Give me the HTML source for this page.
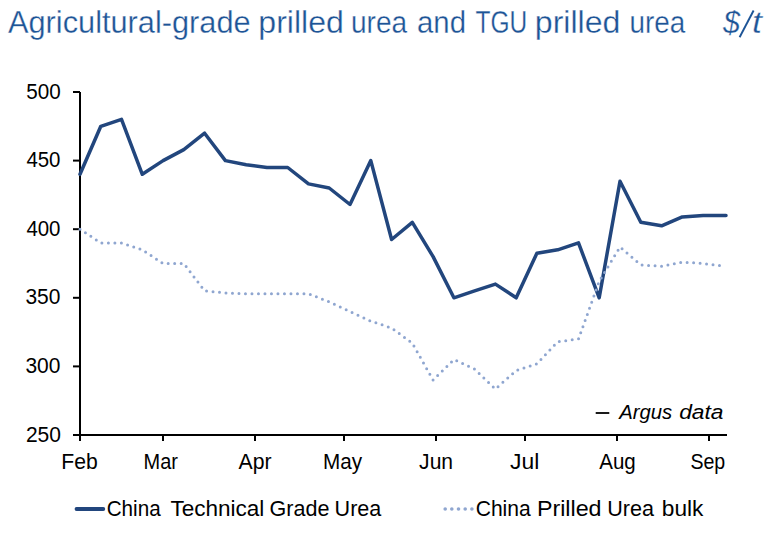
<!DOCTYPE html>
<html><head><meta charset="utf-8"><style>
html,body{margin:0;padding:0;background:#fff;}
body{width:784px;height:535px;overflow:hidden;position:relative;}
svg{position:absolute;left:0;top:0;}
text{font-family:"Liberation Sans", sans-serif;}
</style></head><body>
<svg width="784" height="535" viewBox="0 0 784 535">
<text x="8.00" y="33.00" font-size="31" textLength="242.66" lengthAdjust="spacingAndGlyphs" fill="#1d5496" stroke="#fff" stroke-width="0.3">Agricultural-grade</text>
<text x="258.30" y="33.00" font-size="31" textLength="85.54" lengthAdjust="spacingAndGlyphs" fill="#1d5496" stroke="#fff" stroke-width="0.3">prilled</text>
<text x="351.00" y="33.00" font-size="31" textLength="56.17" lengthAdjust="spacingAndGlyphs" fill="#1d5496" stroke="#fff" stroke-width="0.3">urea</text>
<text x="417.00" y="33.00" font-size="31" textLength="49.01" lengthAdjust="spacingAndGlyphs" fill="#1d5496" stroke="#fff" stroke-width="0.3">and</text>
<text x="475.50" y="33.00" font-size="31" textLength="51.73" lengthAdjust="spacingAndGlyphs" fill="#1d5496" stroke="#fff" stroke-width="0.3">TGU</text>
<text x="534.80" y="33.00" font-size="31" textLength="85.60" lengthAdjust="spacingAndGlyphs" fill="#1d5496" stroke="#fff" stroke-width="0.3">prilled</text>
<text x="629.50" y="33.00" font-size="31" textLength="55.80" lengthAdjust="spacingAndGlyphs" fill="#1d5496" stroke="#fff" stroke-width="0.3">urea</text>
<text x="723.00" y="33.00" font-size="32" textLength="17.01" lengthAdjust="spacingAndGlyphs" font-style="italic" fill="#1d5496" stroke="#fff" stroke-width="0.3">$</text>
<text x="752.00" y="32.50" font-size="31" textLength="9.91" lengthAdjust="spacingAndGlyphs" font-style="italic" fill="#1d5496" stroke="#fff" stroke-width="0.3">t</text>
<text x="26.30" y="98.50" font-size="22.75" textLength="34.43" lengthAdjust="spacingAndGlyphs" fill="#000">500</text>
<text x="26.40" y="167.10" font-size="22.75" textLength="34.10" lengthAdjust="spacingAndGlyphs" fill="#000">450</text>
<text x="26.40" y="235.70" font-size="22.75" textLength="34.10" lengthAdjust="spacingAndGlyphs" fill="#000">400</text>
<text x="25.40" y="304.30" font-size="22.75" textLength="35.02" lengthAdjust="spacingAndGlyphs" fill="#000">350</text>
<text x="25.40" y="372.90" font-size="22.75" textLength="35.02" lengthAdjust="spacingAndGlyphs" fill="#000">300</text>
<text x="25.90" y="441.50" font-size="22.75" textLength="35.03" lengthAdjust="spacingAndGlyphs" fill="#000">250</text>
<text x="61.30" y="468.80" font-size="22.5" textLength="36.48" lengthAdjust="spacingAndGlyphs" fill="#000">Feb</text>
<text x="143.60" y="468.80" font-size="22.5" textLength="34.39" lengthAdjust="spacingAndGlyphs" fill="#000">Mar</text>
<text x="238.60" y="468.80" font-size="22.5" textLength="33.00" lengthAdjust="spacingAndGlyphs" fill="#000">Apr</text>
<text x="323.10" y="468.80" font-size="22.5" textLength="39.13" lengthAdjust="spacingAndGlyphs" fill="#000">May</text>
<text x="419.10" y="468.80" font-size="22.5" textLength="34.00" lengthAdjust="spacingAndGlyphs" fill="#000">Jun</text>
<text x="510.00" y="468.80" font-size="22.5" textLength="29.26" lengthAdjust="spacingAndGlyphs" fill="#000">Jul</text>
<text x="599.20" y="468.80" font-size="22.5" textLength="36.54" lengthAdjust="spacingAndGlyphs" fill="#000">Aug</text>
<text x="690.40" y="468.80" font-size="22.5" textLength="34.85" lengthAdjust="spacingAndGlyphs" fill="#000">Sep</text>
<text x="619.20" y="419.30" font-size="19.5" textLength="53.06" lengthAdjust="spacingAndGlyphs" font-style="italic" fill="#000">Argus</text>
<text x="679.20" y="419.30" font-size="19.5" textLength="44.31" lengthAdjust="spacingAndGlyphs" font-style="italic" fill="#000">data</text>
<text x="106.70" y="515.60" font-size="22" textLength="54.03" lengthAdjust="spacingAndGlyphs" fill="#000">China</text>
<text x="170.40" y="515.60" font-size="22" textLength="93.99" lengthAdjust="spacingAndGlyphs" fill="#000">Technical</text>
<text x="269.60" y="515.60" font-size="22" textLength="59.88" lengthAdjust="spacingAndGlyphs" fill="#000">Grade</text>
<text x="334.60" y="515.60" font-size="22" textLength="46.73" lengthAdjust="spacingAndGlyphs" fill="#000">Urea</text>
<text x="475.70" y="515.60" font-size="22" textLength="55.05" lengthAdjust="spacingAndGlyphs" fill="#000">China</text>
<text x="536.90" y="515.60" font-size="22" textLength="64.67" lengthAdjust="spacingAndGlyphs" fill="#000">Prilled</text>
<text x="607.20" y="515.60" font-size="22" textLength="46.73" lengthAdjust="spacingAndGlyphs" fill="#000">Urea</text>
<text x="661.80" y="515.60" font-size="22" textLength="41.63" lengthAdjust="spacingAndGlyphs" fill="#000">bulk</text>
<path d="M80,92 V441" stroke="#000" stroke-width="2" fill="none"/>
<path d="M73,435 H727" stroke="#000" stroke-width="2" fill="none"/>
<path d="M73,366.4 H80" stroke="#000" stroke-width="2"/>
<path d="M73,297.8 H80" stroke="#000" stroke-width="2"/>
<path d="M73,229.2 H80" stroke="#000" stroke-width="2"/>
<path d="M73,160.6 H80" stroke="#000" stroke-width="2"/>
<path d="M73,92.0 H80" stroke="#000" stroke-width="2"/>
<path d="M163,435 V441" stroke="#000" stroke-width="2"/>
<path d="M255,435 V441" stroke="#000" stroke-width="2"/>
<path d="M344,435 V441" stroke="#000" stroke-width="2"/>
<path d="M436,435 V441" stroke="#000" stroke-width="2"/>
<path d="M525,435 V441" stroke="#000" stroke-width="2"/>
<path d="M617,435 V441" stroke="#000" stroke-width="2"/>
<path d="M709,435 V441" stroke="#000" stroke-width="2"/>
<polyline points="80.0,174.3 100.8,126.3 121.5,119.4 142.3,174.3 163.1,160.6 183.8,149.6 204.6,133.2 225.4,160.6 246.2,164.7 266.9,167.5 287.7,167.5 308.5,183.9 329.2,188.0 350.0,204.5 370.8,160.6 391.6,239.5 412.3,222.3 433.1,256.6 453.9,297.8 474.6,290.9 495.4,284.1 516.2,297.8 536.9,253.2 557.7,249.8 578.5,242.9 599.2,297.8 620.0,181.2 640.8,222.3 661.6,225.8 682.3,216.9 703.1,215.5 726.0,215.5" fill="none" stroke="#22467d" stroke-width="3.5" stroke-linejoin="round" stroke-linecap="round"/>
<polyline points="80.0,229.2 100.8,242.9 121.5,242.9 142.3,249.8 163.1,263.5 183.8,263.5 204.6,290.9 225.4,292.9 246.2,293.7 266.9,293.7 287.7,293.7 308.5,293.7 329.2,301.9 350.0,311.5 370.8,321.1 391.6,328.0 412.3,343.1 433.1,380.1 453.9,359.5 474.6,369.1 495.4,389.0 516.2,370.5 536.9,363.7 557.7,341.7 578.5,339.0 599.2,281.3 620.0,247.0 640.8,264.9 661.6,266.2 682.3,262.1 703.1,263.5 723.9,266.2" fill="none" stroke="#8fa6d0" stroke-width="3" stroke-dasharray="0 6.5" stroke-linecap="round"/>
<path d="M753.6,10.5 L739.6,37.2" stroke="#1d5496" stroke-width="1.9" fill="none"/>
<path d="M595.7,413 H609.3" stroke="#000" stroke-width="1.8" fill="none"/>
<path d="M76.5,509 H103.3" stroke="#22467d" stroke-width="3.8" stroke-linecap="round"/>
<g fill="#8fa6d0"><circle cx="445.2" cy="509" r="1.8"/><circle cx="451.8" cy="509" r="1.8"/><circle cx="458.5" cy="509" r="1.8"/><circle cx="465.2" cy="509" r="1.8"/><circle cx="471.9" cy="509" r="1.8"/></g>
</svg>
</body></html>
